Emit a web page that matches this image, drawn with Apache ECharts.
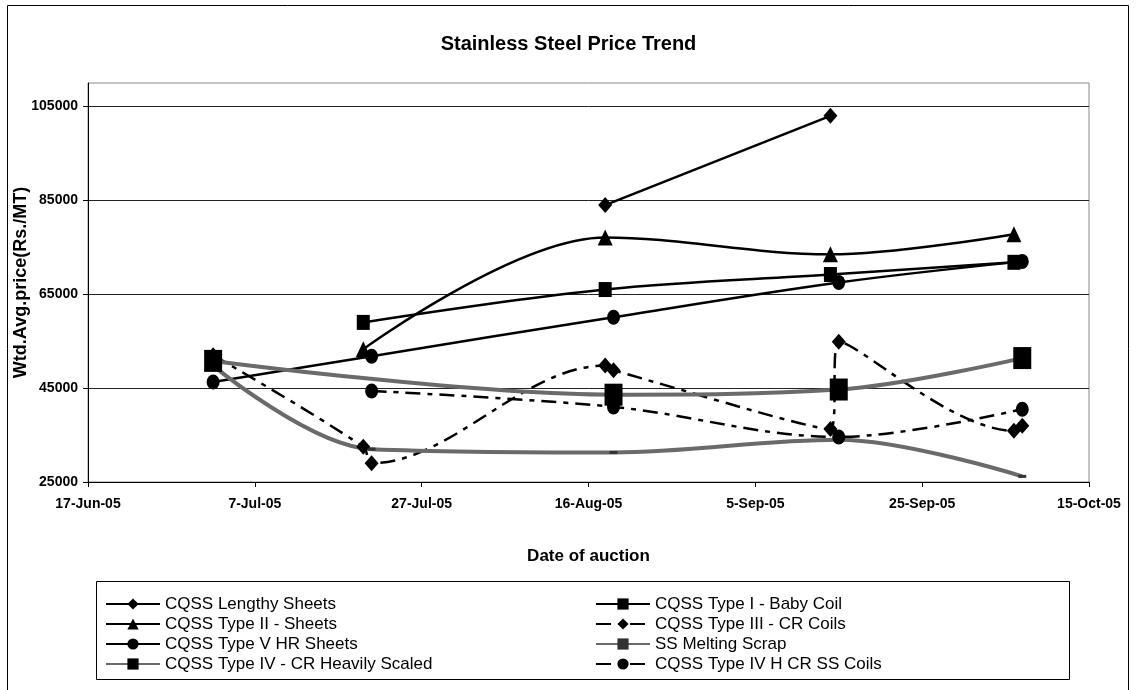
<!DOCTYPE html>
<html><head><meta charset="utf-8">
<script src="https://cdn.jsdelivr.net/npm/echarts@6/dist/echarts.min.js"></script>
<style>html,body{margin:0;padding:0;background:#fff}#c{width:1137px;height:690px}</style>
</head><body><div id="c"></div>
<script>
// ---- data ----
const xTickDates = ['2005-06-17','2005-07-07','2005-07-27','2005-08-16','2005-09-05','2005-09-25','2005-10-15'];
const yTicks = [25000, 45000, 65000, 85000, 105000];

const seriesNames = ['CQSS Lengthy Sheets','CQSS Type I - Baby Coil','CQSS Type II - Sheets','CQSS Type III - CR Coils',
  'CQSS Type V HR Sheets','SS Melting Scrap','CQSS Type IV - CR Heavily Scaled','CQSS Type IV H CR SS Coils'];

const lengthyDates = ['2005-08-18','2005-09-14'];
const lengthyValues = [84000, 103000];
const babyCoilDates = ['2005-07-20','2005-08-18','2005-09-14','2005-10-06'];
const babyCoilValues = [59000, 66000, 69200, 71800];
const type2Dates = ['2005-07-20','2005-08-18','2005-09-14','2005-10-06'];
const type2Values = [53300, 77100, 73500, 77800];
const type3Dates = ['2005-07-02','2005-07-20','2005-07-21','2005-08-18','2005-08-19','2005-09-14','2005-09-15','2005-10-06','2005-10-07'];
const type3Values = [52000, 32500, 29000, 49800, 48800, 36300, 54900, 35900, 37000];
const type5Dates = ['2005-07-02','2005-07-21','2005-08-19','2005-09-15','2005-10-07'];
const type5Values = [46300, 51800, 60100, 67500, 72000];
const scrapDates = ['2005-07-02','2005-07-21','2005-08-19','2005-09-15','2005-10-07'];
const scrapValues = [49800, 32000, 31300, 34000, 26200];
const type4crDates = ['2005-07-02','2005-08-19','2005-09-15','2005-10-07'];
const type4crValues = [50800, 43600, 44700, 51400];
const type4hDates = ['2005-07-21','2005-08-19','2005-09-15','2005-10-07'];
const type4hValues = [44400, 41000, 34600, 40500];

// ---- helpers ----
const ts = s => { const p = s.split('-').map(Number); return Date.UTC(p[0], p[1]-1, p[2]); };
const pairs = (d, v) => d.map((x, i) => [ts(x), v[i]]);
const MON = ['Jan','Feb','Mar','Apr','May','Jun','Jul','Aug','Sep','Oct','Nov','Dec'];
const fmtDate = v => { const d = new Date(v); return d.getUTCDate() + '-' + MON[d.getUTCMonth()] + '-' + String(d.getUTCFullYear()).slice(2); };
const ELLIPSE = 'path://M0,-10A10,10,0,1,1,0,10A10,10,0,1,1,0,-10Z';
const FONT = 'Liberation Sans, Arial, sans-serif';
const SM = 0.35;

const black = '#000';
const grey = '#6a6a6a';
const dashDot = [15, 7, 5, 7];

function mk(name, d, v, symbol, size, color, width, dash, symColor) {
  return {
    name, type: 'line', data: pairs(d, v), smooth: SM,
    symbol, symbolSize: size, showAllSymbol: true,
    lineStyle: { color, width, type: dash || 'solid' },
    itemStyle: { color: symColor || black, borderWidth: 0 },
    emphasis: { disabled: true }
  };
}

const series = [
  mk(seriesNames[0], lengthyDates, lengthyValues, 'diamond', [14, 16], black, 2.5),
  mk(seriesNames[1], babyCoilDates, babyCoilValues, 'rect', [13, 15], black, 2.5),
  mk(seriesNames[2], type2Dates, type2Values, 'triangle', [15, 16], black, 2.5),
  mk(seriesNames[3], type3Dates, type3Values, 'diamond', [14, 16], black, 2.5, dashDot),
  mk(seriesNames[4], type5Dates, type5Values, ELLIPSE, [13, 15], black, 2.5),
  mk(seriesNames[5], scrapDates, scrapValues, 'rect', [8, 3], grey, 4, null, '#333'),
  mk(seriesNames[6], type4crDates, type4crValues, 'rect', [18, 22], grey, 4),
  mk(seriesNames[7], type4hDates, type4hValues, ELLIPSE, [13, 15], black, 2.5, dashDot)
];

const chart = echarts.init(document.getElementById('c'), null, { renderer: 'canvas' });
const legendCommon = {
  orient: 'vertical', itemWidth: 54, itemHeight: 14, itemGap: 0,
  textStyle: { fontFamily: FONT, fontSize: 17, color: '#000', lineHeight: 20 },
  selectedMode: false
};
chart.setOption({
  animation: false,
  backgroundColor: '#fff',
  textStyle: { fontFamily: FONT },
  title: {
    text: 'Stainless Steel Price Trend', left: 'center', top: 29,
    textStyle: { fontFamily: FONT, fontSize: 20, fontWeight: 'bold', color: '#000' }
  },
  grid: { left: 88, right: 48, top: 83, bottom: 208, show: true, borderColor: '#888', borderWidth: 1,
    containLabel: false, outerBoundsMode: 'none' },
  legend: [
    Object.assign({ left: 100, top: 589, data: [seriesNames[0], seriesNames[2], seriesNames[4], seriesNames[6]] }, legendCommon),
    Object.assign({ left: 590, top: 589, data: [seriesNames[1], seriesNames[3], seriesNames[5], seriesNames[7]] }, legendCommon)
  ],
  xAxis: {
    type: 'value', min: ts(xTickDates[0]), max: ts(xTickDates[xTickDates.length - 1]),
    name: 'Date of auction', nameLocation: 'middle', nameGap: 66, nameMoveOverlap: false,
    nameTextStyle: { fontFamily: FONT, fontSize: 17, fontWeight: 'bold', color: '#000' },
    axisLine: { lineStyle: { color: '#000', width: 1 } },
    axisTick: { show: true, length: 5, lineStyle: { color: '#000' }, customValues: xTickDates.map(ts) },
    axisLabel: { customValues: xTickDates.map(ts), formatter: fmtDate, margin: 15,
      fontFamily: FONT, fontSize: 14, fontWeight: 'bold', color: '#000' },
    splitLine: { show: false }
  },
  yAxis: {
    type: 'value', min: 25000, max: 110000,
    name: 'Wtd.Avg.price(Rs./MT)', nameLocation: 'middle', nameGap: 58, nameRotate: 90, nameMoveOverlap: false,
    nameTextStyle: { fontFamily: FONT, fontSize: 18, fontWeight: 'bold', color: '#000' },
    axisLine: { show: true, lineStyle: { color: '#000', width: 1 } },
    axisTick: { show: true, length: 5, lineStyle: { color: '#000' }, customValues: yTicks },
    axisLabel: { customValues: yTicks, formatter: v => String(v), margin: 10,
      fontFamily: FONT, fontSize: 14, fontWeight: 'bold', color: '#000' },
    splitLine: { show: true, lineStyle: { color: '#222', width: 1 } }
  },
  graphic: [
    { type: 'rect', silent: true, z: -1, shape: { x: 7.5, y: 5.5, width: 1121, height: 720 }, style: { fill: null, stroke: '#000', lineWidth: 1 } },
    { type: 'rect', silent: true, z: -1, shape: { x: 96.5, y: 581.5, width: 973, height: 98 }, style: { fill: null, stroke: '#000', lineWidth: 1 } }
  ],
  series
});
</script></body></html>
